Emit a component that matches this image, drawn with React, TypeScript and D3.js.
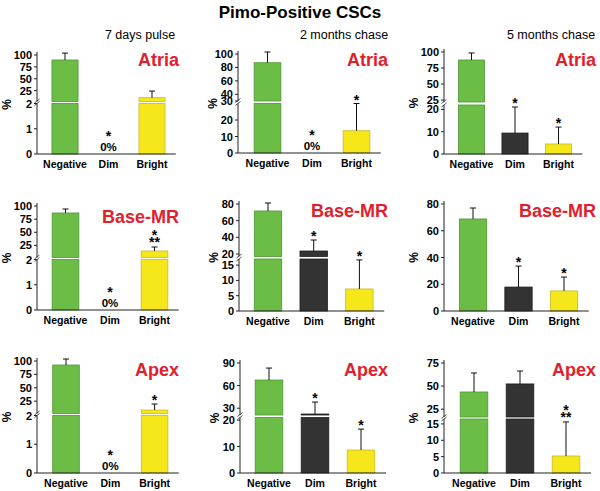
import React from "react";
import * as d3 from "d3";

// ---------- DATA ----------
const chartTitle = "Pimo-Positive CSCs";
const categories = ["Negative", "Dim", "Bright"];
const timepoints = ["7 days pulse", "2 months chase", "5 months chase"];
const regions = ["Atria", "Base-MR", "Apex"];

// mean % per timepoint, per category (Negative, Dim, Bright)
const atriaMean = [[89.5, 0, 10], [87, 0, 13.5], [87.5, 9.4, 4.5]];
const atriaSD = [[14.5, 0, 14], [16, 0, 16.5], [11, 11.7, 7.6]];
const baseMean = [[86.7, 0, 14.4], [71.6, 23.6, 7.2], [68.8, 17.9, 15]];
const baseSD = [[7.6, 0, 7.6], [9.6, 13.2, 9.5], [8.2, 15.7, 10.4]];
const apexMean = [[92.5, 0, 8.5], [67.4, 22.3, 8.7], [43.6, 52.3, 5.2]];
const apexSD = [[11.2, 0, 11.2], [15.9, 15.9, 7.9], [20.6, 14, 10.4]];

// significance marks ("***" drawn as * over **)
const atriaSig = [["", "*", ""], ["", "*", "*"], ["", "*", "*"]];
const baseSig = [["", "*", "***"], ["", "*", "*"], ["", "*", "*"]];
const apexSig = [["", "*", "*"], ["", "*", "*"], ["", "", "***"]];

// axis breaks and maxima per region row, per timepoint
const atriaBreak = [2, 30, 22];
const baseBreak = [2, 17, 0];
const apexBreak = [2, 21, 16.5];
const atriaMax = [100, 100, 100];
const baseMax = [100, 80, 80];
const apexMax = [100, 90, 75];

// tick values
const atriaLowerTicks = [[0, 1, 2], [0, 10, 20], [0, 10, 20]];
const atriaUpperTicks = [[25, 50, 75, 100], [30, 40, 60, 80, 100], [25, 50, 75, 100]];
const baseLowerTicks = [[0, 1, 2], [0, 5, 10, 15], [0, 20, 40, 60, 80]];
const baseUpperTicks = [[25, 50, 75, 100], [20, 40, 60, 80], []];
const apexLowerTicks = [[0, 1, 2], [0, 10, 20], [0, 5, 10, 15]];
const apexUpperTicks = [[25, 50, 75, 100], [30, 60, 90], [25, 50, 75]];

const meanRows = [atriaMean, baseMean, apexMean];
const sdRows = [atriaSD, baseSD, apexSD];
const sigRows = [atriaSig, baseSig, apexSig];
const breakRows = [atriaBreak, baseBreak, apexBreak];
const maxRows = [atriaMax, baseMax, apexMax];
const lowerTickRows = [atriaLowerTicks, baseLowerTicks, apexLowerTicks];
const upperTickRows = [atriaUpperTicks, baseUpperTicks, apexUpperTicks];

// ---------- LAYOUT ----------
type L = { ax: number; bottom: number; bLow: number; bHigh: number; top: number; step: number; off: number; };
const layout: L[][] = [
  [
    { ax: 37, bottom: 154, bLow: 103.5, bHigh: 101.5, top: 55, step: 43.5, off: 28 },
    { ax: 238, bottom: 153, bLow: 103.5, bHigh: 101, top: 54, step: 44.5, off: 29.5 },
    { ax: 444, bottom: 154, bLow: 105, bHigh: 102, top: 52, step: 43.5, off: 27.5 },
  ],
  [
    { ax: 37, bottom: 310, bLow: 259.5, bHigh: 257.5, top: 206, step: 44.5, off: 28.5 },
    { ax: 239, bottom: 311, bLow: 259, bHigh: 256.5, top: 204, step: 45.7, off: 29 },
    { ax: 444, bottom: 311, bLow: 0, bHigh: 0, top: 204, step: 45.5, off: 29 },
  ],
  [
    { ax: 37, bottom: 473, bLow: 415.5, bHigh: 413.5, top: 361, step: 44.3, off: 29 },
    { ax: 240, bottom: 473, bLow: 417.5, bHigh: 415, top: 363, step: 46, off: 29 },
    { ax: 444, bottom: 473, bLow: 419, bHigh: 417, top: 363, step: 46, off: 30 },
  ],
];
const regionRight = [179, 388, 596];
const regionBaseline = [[65.5, 65.5, 65.5], [222.5, 216.5, 216.5], [375.5, 375.5, 375.5]];
const titleCenter = [140, 344, 551];
const pctOffset = [26, 21.5, 26.5];

const FONT = "'Liberation Sans', Arial, Helvetica, sans-serif";
const fillColors = ["#6cbd45", "#333333", "#f6e71a"];
const strokeColors = ["#4c9632", "#1c1c1c", "#c6b92c"];
const RED = "#e2202c";

function Panel({ r, c }: { r: number; c: number }) {
  const Lp = layout[r][c];
  const brk = breakRows[r][c];
  const max = maxRows[r][c];
  const hasBreak = brk > 0;
  const lower = hasBreak
    ? d3.scaleLinear().domain([0, brk]).range([Lp.bottom, Lp.bLow])
    : d3.scaleLinear().domain([0, max]).range([Lp.bottom, Lp.top]);
  const upper = hasBreak
    ? d3.scaleLinear().domain([brk, max]).range([Lp.bHigh, Lp.top])
    : lower;
  const y = (v: number) => (hasBreak && v > brk ? upper(v) : lower(v));
  const start = Lp.ax + Lp.off - Lp.step / 2;
  const x = d3
    .scaleBand<string>()
    .domain(categories)
    .range([start, start + 3 * Lp.step])
    .paddingInner(0.4)
    .paddingOuter(0.2);
  const bw = x.bandwidth();
  const means = meanRows[r][c];
  const sds = sdRows[r][c];
  const sigs = sigRows[r][c];
  const xEnd = start + 3 * Lp.step + 2;

  const ticks = [
    ...lowerTickRows[r][c].map((t) => ({ t, yy: lower(t) })),
    ...upperTickRows[r][c].map((t) => ({ t, yy: upper(t) })),
  ];

  return (
    <g>
      {categories.map((cat, i) => {
        const v = means[i];
        const s = sds[i];
        const x0 = x(cat)!;
        const cx = x0 + bw / 2;
        const els: any[] = [];
        if (v > 0) {
          if (hasBreak && v > brk) {
            els.push(
              <rect key="lo" x={x0} y={Lp.bLow} width={bw} height={Lp.bottom - Lp.bLow}
                fill={fillColors[i]} stroke={strokeColors[i]} strokeWidth={0.8} />,
              <rect key="hi" x={x0} y={upper(v)} width={bw} height={Lp.bHigh - upper(v)}
                fill={fillColors[i]} stroke={strokeColors[i]} strokeWidth={0.8} />
            );
          } else {
            els.push(
              <rect key="b" x={x0} y={y(v)} width={bw} height={Lp.bottom - y(v)}
                fill={fillColors[i]} stroke={strokeColors[i]} strokeWidth={0.8} />
            );
          }
        }
        let errTop = y(v);
        if (s > 0) {
          errTop = y(v + s);
          els.push(
            <line key="e" x1={cx} x2={cx} y1={y(v)} y2={errTop} stroke="#111" strokeWidth={1} />,
            <line key="ec" x1={cx - 3} x2={cx + 3} y1={errTop} y2={errTop} stroke="#111" strokeWidth={1} />
          );
        }
        const sig = sigs[i];
        if (v === 0) {
          if (sig) {
            els.push(
              <text key="s0" x={cx} y={Lp.bottom - 13} textAnchor="middle" fontSize={14} fontWeight="bold">*</text>
            );
          }
          els.push(
            <text key="z" x={cx} y={Lp.bottom - 3.5} textAnchor="middle" fontSize={11.5} fontWeight="bold">0%</text>
          );
        } else if (sig === "*") {
          els.push(
            <text key="s" x={cx} y={errTop + 1} textAnchor="middle" fontSize={14} fontWeight="bold">*</text>
          );
        } else if (sig === "***") {
          els.push(
            <text key="s2" x={cx} y={errTop + 0.5} textAnchor="middle" fontSize={14} fontWeight="bold">**</text>,
            <text key="s1" x={cx} y={errTop - 6.5} textAnchor="middle" fontSize={14} fontWeight="bold">*</text>
          );
        }
        return <g key={cat}>{els}</g>;
      })}

      <line x1={Lp.ax} x2={Lp.ax} y1={Lp.bottom} y2={Lp.top - 3} stroke="#222" strokeWidth={1} />
      <line x1={Lp.ax} x2={xEnd} y1={Lp.bottom} y2={Lp.bottom} stroke="#222" strokeWidth={1} />
      {hasBreak && (
        <g>
          <rect x={Lp.ax - 2} y={Lp.bHigh} width={4} height={Lp.bLow - Lp.bHigh} fill="#fff" />
          <line x1={Lp.ax - 2.5} x2={Lp.ax + 2.5} y1={Lp.bLow + 2} y2={Lp.bLow - 2} stroke="#222" strokeWidth={0.8} />
          <line x1={Lp.ax - 2.5} x2={Lp.ax + 2.5} y1={Lp.bHigh + 1.5} y2={Lp.bHigh - 2.5} stroke="#222" strokeWidth={0.8} />
        </g>
      )}
      {ticks.map(({ t, yy }) => (
        <g key={"t" + t}>
          <line x1={Lp.ax - 3} x2={Lp.ax} y1={yy} y2={yy} stroke="#222" strokeWidth={1} />
          <text x={Lp.ax - 5} y={yy + 4} textAnchor="end" fontSize={11} fontWeight="bold">{t}</text>
        </g>
      ))}
      {categories.map((cat) => (
        <text key={"xl" + cat} x={x(cat)! + bw / 2} y={Lp.bottom + 14} textAnchor="middle"
          fontSize={10.5} fontWeight="bold">{cat}</text>
      ))}
      <text transform={`translate(${Lp.ax - pctOffset[c]},${(Lp.bottom + Lp.top) / 2}) rotate(-90)`}
        textAnchor="middle" fontSize={12} fontWeight="bold">%</text>

      <text x={regionRight[c]} y={regionBaseline[r][c]} textAnchor="end" fontSize={18}
        fontWeight="bold" fill={RED}>{regions[r]}</text>
      {r === 0 && (
        <text x={titleCenter[c]} y={38.5} textAnchor="middle" fontSize={12.5}>{timepoints[c]}</text>
      )}
    </g>
  );
}

export default function App() {
  return (
    <svg width={600} height={491} style={{ position: "absolute", left: 0, top: 0, background: "#fff" }}
      fontFamily={FONT}>
      <rect width={600} height={491} fill="#fff" />
      <text x={300} y={18} textAnchor="middle" fontSize={17} fontWeight="bold">{chartTitle}</text>
      {[0, 1, 2].map((r) => [0, 1, 2].map((c) => <Panel key={`${r}-${c}`} r={r} c={c} />))}
    </svg>
  );
}
